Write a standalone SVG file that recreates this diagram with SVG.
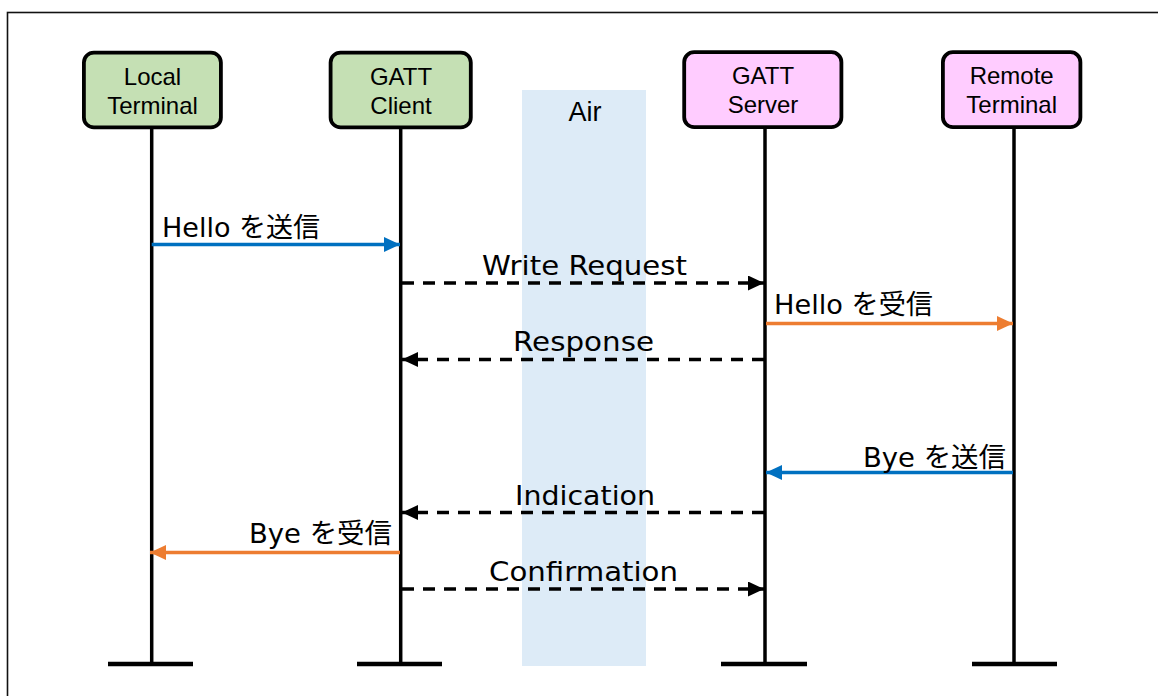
<svg xmlns="http://www.w3.org/2000/svg" width="1158" height="696" viewBox="0 0 1158 696">
<style>
.box{stroke:#000;stroke-width:3.8}
.green{fill:#C5E0B4}
.pink{fill:#FFCCFF}
.bt{font-family:"Liberation Sans",Arial,sans-serif;font-size:24px;fill:#000;text-anchor:middle}
.life{stroke:#000;stroke-width:3.5;fill:none}
.bar{stroke:#000;stroke-width:4.5;fill:none}
.lbl{font-family:"DejaVu Sans","Noto Sans CJK JP",sans-serif;font-size:27px;fill:#000}
.dash{stroke:#000;stroke-width:3.4;stroke-dasharray:12 9;fill:none}
.blue{stroke:#0070C0;stroke-width:3.4;fill:none}
.orange{stroke:#ED7D31;stroke-width:3.4;fill:none}
</style>
<defs>
<marker id="ab" markerUnits="userSpaceOnUse" markerWidth="17" markerHeight="15" refX="16" refY="7.5" orient="auto"><path d="M0,0 L16,7.5 L0,15 Z" fill="#000"/></marker>
<marker id="abl" markerUnits="userSpaceOnUse" markerWidth="17" markerHeight="15" refX="16" refY="7.5" orient="auto"><path d="M0,0 L16,7.5 L0,15 Z" fill="#0070C0"/></marker>
<marker id="aor" markerUnits="userSpaceOnUse" markerWidth="17" markerHeight="15" refX="16" refY="7.5" orient="auto"><path d="M0,0 L16,7.5 L0,15 Z" fill="#ED7D31"/></marker>
</defs>
<rect x="0" y="0" width="1158" height="696" fill="#fff"/>
<rect x="7.5" y="12.5" width="1160" height="700" fill="none" stroke="#111" stroke-width="1.6"/>
<g id="air">
<rect x="522" y="90" width="124" height="576" fill="#DDEBF7"/>
<text x="585" y="121" font-family="Liberation Sans,Arial,sans-serif" font-size="27" text-anchor="middle">Air</text>
</g>
<g id="lifelines">
<line class="life" x1="151.7" y1="129" x2="151.7" y2="664"/>
<line class="bar" x1="108" y1="664" x2="193" y2="664"/>
<line class="life" x1="400.7" y1="129" x2="400.7" y2="664"/>
<line class="bar" x1="357" y1="664" x2="442" y2="664"/>
<line class="life" x1="765" y1="129" x2="765" y2="664"/>
<line class="bar" x1="721" y1="664" x2="807" y2="664"/>
<line class="life" x1="1014" y1="129" x2="1014" y2="664"/>
<line class="bar" x1="972" y1="664" x2="1057" y2="664"/>
</g>
<g id="local-terminal">
<rect class="box green" x="83.9" y="52.6" width="137" height="74.8" rx="10"/>
<text class="bt" x="152.5" y="85">Local</text>
<text class="bt" x="152.5" y="114">Terminal</text>
</g>
<g id="gatt-client">
<rect class="box green" x="330.6" y="52.6" width="140.2" height="74.8" rx="10"/>
<text class="bt" x="401" y="85">GATT</text>
<text class="bt" x="401" y="114">Client</text>
</g>
<g id="gatt-server">
<rect class="box pink" x="684.2" y="52.2" width="157.2" height="75" rx="10"/>
<text class="bt" x="763" y="84">GATT</text>
<text class="bt" x="763" y="113">Server</text>
</g>
<g id="remote-terminal">
<rect class="box pink" x="942.9" y="52.2" width="137.5" height="75" rx="10"/>
<text class="bt" x="1011.7" y="84">Remote</text>
<text class="bt" x="1011.7" y="113">Terminal</text>
</g>
<g id="connectors">
<line class="blue" x1="151.7" y1="244.5" x2="400" y2="244.5" marker-end="url(#abl)"/>
<text class="lbl" x="162" y="237" textLength="158" lengthAdjust="spacingAndGlyphs">Hello を送信</text>
<line class="dash" x1="402" y1="283" x2="764" y2="283" marker-end="url(#ab)"/>
<text class="lbl" x="584.5" y="275" text-anchor="middle" textLength="205" lengthAdjust="spacingAndGlyphs">Write Request</text>
<line class="orange" x1="766" y1="323.5" x2="1013" y2="323.5" marker-end="url(#aor)"/>
<text class="lbl" x="774" y="314" textLength="159" lengthAdjust="spacingAndGlyphs">Hello を受信</text>
<line class="dash" x1="764" y1="359.5" x2="402" y2="359.5" marker-end="url(#ab)"/>
<text class="lbl" x="583.5" y="351" text-anchor="middle" textLength="141" lengthAdjust="spacingAndGlyphs">Response</text>
<line class="blue" x1="1013" y1="472.5" x2="766" y2="472.5" marker-end="url(#abl)"/>
<text class="lbl" x="863" y="467" textLength="143" lengthAdjust="spacingAndGlyphs">Bye を送信</text>
<line class="dash" x1="764" y1="512.5" x2="402" y2="512.5" marker-end="url(#ab)"/>
<text class="lbl" x="585" y="505" text-anchor="middle" textLength="140" lengthAdjust="spacingAndGlyphs">Indication</text>
<line class="orange" x1="400" y1="552.5" x2="150" y2="552.5" marker-end="url(#aor)"/>
<text class="lbl" x="249" y="543" textLength="143" lengthAdjust="spacingAndGlyphs">Bye を受信</text>
<line class="dash" x1="402" y1="589" x2="764" y2="589" marker-end="url(#ab)"/>
<text class="lbl" x="583.5" y="581" text-anchor="middle" textLength="189" lengthAdjust="spacingAndGlyphs">Confirmation</text>
</g>
</svg>
